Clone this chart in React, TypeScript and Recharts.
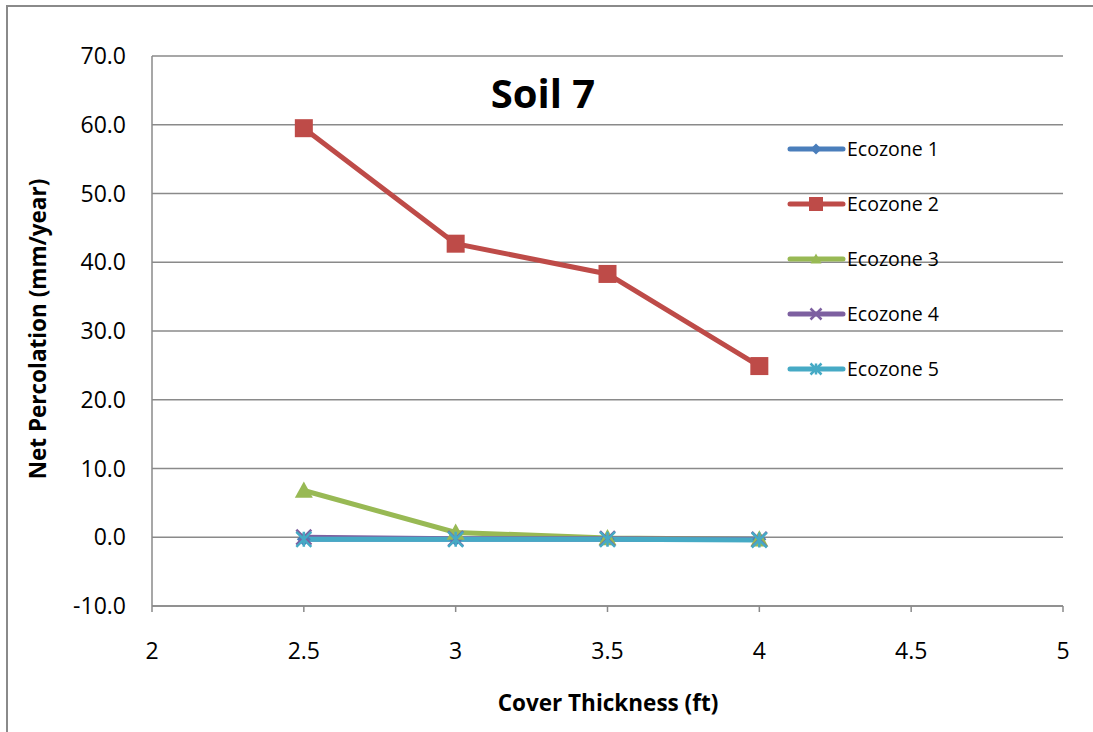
import { CartesianGrid, Line, LineChart, XAxis, YAxis } from 'recharts';

const thickness = [2.5, 3, 3.5, 4];
const ecozone1 = [-0.3, -0.3, -0.3, -0.3];
const ecozone2 = [59.5, 42.7, 38.3, 24.9];
const ecozone3 = [6.8, 0.7, -0.1, -0.3];
const ecozone4 = [0.0, -0.2, -0.2, -0.3];
const ecozone5 = [-0.3, -0.3, -0.3, -0.4];
const xTicks = [2, 2.5, 3, 3.5, 4, 4.5, 5];
const yTicks = [-10, 0, 10, 20, 30, 40, 50, 60, 70];

const series = [
  { key: 'eco1', name: 'Ecozone 1', values: ecozone1, color: '#4A7EBB', shape: 'diamond' },
  { key: 'eco2', name: 'Ecozone 2', values: ecozone2, color: '#BE4B48', shape: 'square' },
  { key: 'eco3', name: 'Ecozone 3', values: ecozone3, color: '#98B954', shape: 'triangle' },
  { key: 'eco4', name: 'Ecozone 4', values: ecozone4, color: '#7D60A0', shape: 'x' },
  { key: 'eco5', name: 'Ecozone 5', values: ecozone5, color: '#46AAC5', shape: 'star' }
];

const data = thickness.map((t, i) => {
  const row: Record<string, number> = { t };
  series.forEach((s) => {
    row[s.key] = s.values[i];
  });
  return row;
});

const FONT = '"Open Sans", sans-serif';
const GRID = '#8A8A8A';

function Marker({ shape, color, cx, cy, size }: { shape: string; color: string; cx: number; cy: number; size: number }) {
  const h = size / 2;
  if (shape === 'square') return <rect x={cx - h} y={cy - h} width={size} height={size} fill={color} />;
  if (shape === 'diamond') return <polygon points={`${cx},${cy - h} ${cx + h},${cy} ${cx},${cy + h} ${cx - h},${cy}`} fill={color} />;
  if (shape === 'triangle') return <polygon points={`${cx},${cy - h} ${cx + h},${cy + h * 0.8} ${cx - h},${cy + h * 0.8}`} fill={color} />;
  if (shape === 'x')
    return (
      <path d={`M${cx - h},${cy - h}L${cx + h},${cy + h}M${cx - h},${cy + h}L${cx + h},${cy - h}`} stroke={color} strokeWidth={2.5} />
    );
  return (
    <path
      d={`M${cx - h},${cy - h}L${cx + h},${cy + h}M${cx - h},${cy + h}L${cx + h},${cy - h}M${cx},${cy - h}L${cx},${cy + h}`}
      stroke={color}
      strokeWidth={2.5}
    />
  );
}

const makeDot = (shape: string, color: string) => (props: any) => {
  const { cx, cy, index } = props;
  const size = shape === 'diamond' ? 14 : shape === 'x' || shape === 'star' ? 15 : 18;
  return (
    <g key={`dot-${shape}-${index}`}>
      <Marker shape={shape} color={color} cx={cx} cy={cy} size={size} />
    </g>
  );
};

const YLabel = () => (
  <text x={37} y={329} transform="rotate(-90 37 329)" textAnchor="middle" dominantBaseline="central" fontFamily={FONT} fontWeight="bold" fontSize={22.5} fill="#000">
    Net Percolation (mm/year)
  </text>
);

const XLabel = () => (
  <text x={608} y={702} textAnchor="middle" dominantBaseline="central" fontFamily={FONT} fontWeight="bold" fontSize={22.5} fill="#000">
    Cover Thickness (ft)
  </text>
);

export default function App() {
  return (
    <div style={{ position: 'absolute', left: 0, top: 0, width: 1093, height: 732, overflow: 'hidden', background: '#fff' }}>
      <div style={{ position: 'absolute', left: 6, top: 5, width: 1200, height: 800, border: `2px solid ${GRID}` }} />
      <LineChart width={1093} height={732} data={data} margin={{ top: 56, right: 30, left: 0, bottom: 0 }} style={{ position: 'absolute', left: 0, top: 0 }}>
        <CartesianGrid vertical={false} stroke={GRID} strokeWidth={1.5} />
        <XAxis
          dataKey="t"
          type="number"
          domain={[2, 5]}
          ticks={xTicks}
          height={126}
          axisLine={{ stroke: GRID, strokeWidth: 1.5 }}
          tickLine={{ stroke: GRID, strokeWidth: 1.5 }}
          tickSize={6}
          tickMargin={31}
          tick={{ fill: '#000', fontSize: 23, fontFamily: FONT }}
          label={<XLabel />}
        />
        <YAxis
          type="number"
          domain={[-10, 70]}
          ticks={yTicks}
          width={152}
          axisLine={{ stroke: GRID, strokeWidth: 1.5 }}
          tickLine={false}
          tickSize={0}
          tickMargin={26}
          tickFormatter={(v: number) => v.toFixed(1)}
          tick={{ fill: '#000', fontSize: 23, fontFamily: FONT }}
          label={<YLabel />}
        />
        {series.map((s) => (
          <Line
            key={s.key}
            dataKey={s.key}
            name={s.name}
            stroke={s.color}
            strokeWidth={5}
            dot={makeDot(s.shape, s.color)}
            activeDot={false}
            isAnimationActive={false}
          />
        ))}
      </LineChart>
      <div
        style={{
          position: 'absolute',
          left: 543,
          top: 92,
          transform: 'translate(-50%, -50%)',
          fontFamily: FONT,
          fontWeight: 'bold',
          fontSize: 40,
          color: '#000',
          whiteSpace: 'nowrap'
        }}
      >
        Soil 7
      </div>
      <div style={{ position: 'absolute', left: 786, top: 121 }}>
        {series.map((s) => (
          <div key={s.key} style={{ display: 'flex', alignItems: 'center', height: 55 }}>
            <svg width={60} height={28} style={{ display: 'block' }}>
              <line x1={4} y1={14} x2={57} y2={14} stroke={s.color} strokeWidth={5} strokeLinecap="round" />
              <Marker shape={s.shape} color={s.color} cx={30} cy={14} size={s.shape === 'square' ? 14 : 11} />
            </svg>
            <span style={{ fontFamily: FONT, fontSize: 19.5, color: '#000', marginLeft: 1, lineHeight: '28px', whiteSpace: 'nowrap' }}>{s.name}</span>
          </div>
        ))}
      </div>
    </div>
  );
}
